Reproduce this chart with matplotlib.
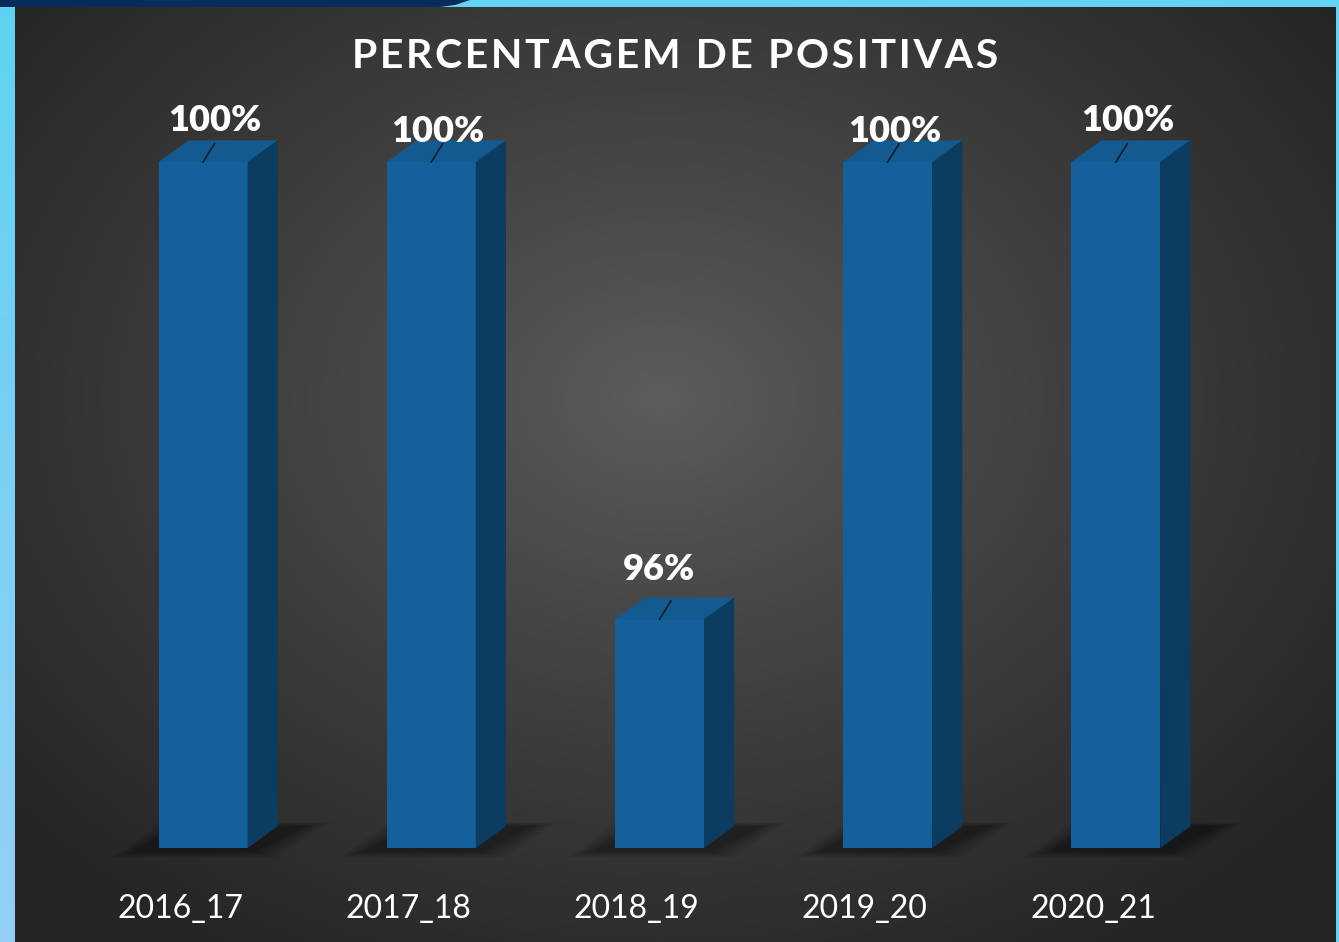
import numpy as np
import matplotlib.pyplot as plt
from matplotlib.patches import Polygon, Rectangle

# data
categories = ['2016_17', '2017_18', '2018_19', '2019_20', '2020_21']
values = [100, 100, 96, 100, 100]
value_labels = ['100%', '100%', '96%', '100%', '100%']
title = 'PERCENTAGEM DE POSITIVAS'

plt.rcParams['font.family'] = ['Lato', 'DejaVu Sans']

W, H = 1339, 942
fig = plt.figure(figsize=(W / 100, H / 100), dpi=100)

# background frame (pixel coordinates)
bg = fig.add_axes([0, 0, 1, 1])
bg.axis('off')
bg.add_patch(Rectangle((0, 0), W, H, color='#62d3f0', lw=0, zorder=0))
# left strip, light blue getting paler towards the bottom
strip = np.linspace(0, 1, 200)[:, None, None]
top_c = np.array([0x5f, 0xd2, 0xf0]) / 255
bot_c = np.array([0x95, 0xcf, 0xf8]) / 255
bg.imshow(top_c + (bot_c - top_c) * strip * np.ones((1, 2, 3)),
          extent=(0, 15, H, 0), aspect='auto', zorder=1)
# navy band at the top left
bg.add_patch(Polygon([(0, 0), (470, 0), (455, 5), (440, 7), (0, 7)],
                     closed=True, color='#062c5c', lw=0, zorder=1))

# dark radial gradient panel
yy, xx = np.mgrid[0:935, 0:1321]
d = np.hypot((xx - 645) / 850.0, (yy - 390) / 650.0)
v = 94 - 57 * np.clip(d, 0, 1) ** 0.85
img = np.dstack([v, v, v]) / 255
bg.imshow(img, extent=(15, 1336, H, 7), aspect='auto', zorder=2)
bg.set_xlim(0, W)
bg.set_ylim(H, 0)

# chart axes
ax = fig.add_axes([89 / W, (H - 848) / H, 1141 / W, (848 - 162) / H])
ax.set_xlim(-0.5, 4.5)
ax.set_ylim(94, 100)
ax.axis('off')
ax.patch.set_alpha(0)

x = np.arange(len(categories))
w = 0.39
dx, dy = 0.132, 0.19
base = 94
front = '#14609a'
topc = '#135a90'
side = '#0c3c60'

# soft shadows on the floor
for i in x:
    for k in range(10):
        e = 0.012 * k
        ax.add_patch(Polygon([(i - w / 2 - 0.10 - e, base - 0.03 - e * 0.5),
                              (i + w / 2 + 0.02 + e, base - 0.03 - e * 0.5),
                              (i + w / 2 + dx + 0.12 + e, base + dy + e * 0.3),
                              (i - w / 2 + dx - 0.02 - e, base + dy + e * 0.3)],
                             closed=True, color='black', alpha=0.04,
                             lw=0, clip_on=False))

ax.bar(x, values, width=w, color=front, edgecolor='none', zorder=3)
for i, val in zip(x, values):
    ax.add_patch(Polygon([(i - w / 2, val), (i + w / 2, val),
                          (i + w / 2 + dx, val + dy), (i - w / 2 + dx, val + dy)],
                         closed=True, color=topc, lw=0, zorder=3, clip_on=False))
    ax.add_patch(Polygon([(i + w / 2, base), (i + w / 2 + dx, base + dy),
                          (i + w / 2 + dx, val + dy), (i + w / 2, val)],
                         closed=True, color=side, lw=0, zorder=3, clip_on=False))

# value labels with leader lines
label_dx = [0.05, 0.03, 0.0, 0.03, 0.05]
label_dy = [0.36, 0.27, 0.44, 0.27, 0.36]
for i, val, lab, ldx, ldy in zip(x, values, value_labels, label_dx, label_dy):
    ax.text(i + ldx, val + ldy, lab, ha='center', va='center', fontsize=26,
            fontweight='heavy', color='white', zorder=5, clip_on=False)
    ax.plot([i + 0.05, i], [val + 0.16, val], color='#101c28', lw=1.2,
            zorder=4, clip_on=False)

# category labels
for i, cat in zip(x, categories):
    ax.text(i - 0.1, base - 0.53, cat, ha='center', va='center', fontsize=23,
            color='white', clip_on=False)

fig.text(675 / W, (H - 57) / H, '\u200a'.join(title), ha='center',
         va='center', fontsize=29.5, fontweight='bold', color='white')

fig.savefig('out.png', dpi=100)
